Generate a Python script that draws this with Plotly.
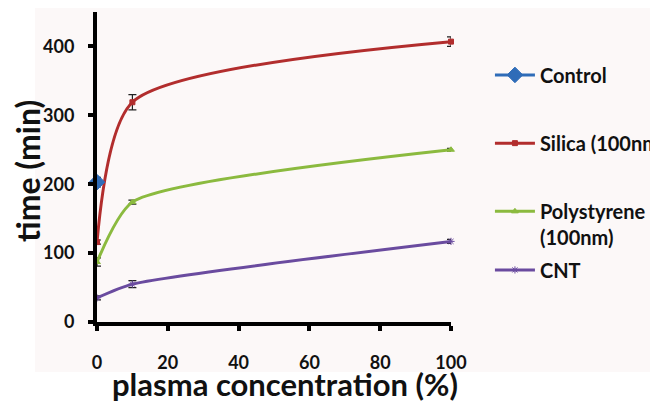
import plotly.graph_objects as go

x_vals = [0, 10, 100]
control_x = [0]
control_y = [203]
control_err = [7]
silica_y = [116, 319, 407]
silica_err = [3, 11, 7]
poly_y = [87, 174, 250]
poly_err = [6, 3, 2]
cnt_y = [35, 55, 117]
cnt_err = [3, 5, 3]

x_ticks = [0, 20, 40, 60, 80, 100]
y_ticks = [0, 100, 200, 300, 400]

FONT = "Lato"
TXT = "#111111"
fig = go.Figure()

def add(name, xs, ys, errs, color, symbol, size, legend, rank, smooth):
    fig.add_trace(go.Scatter(
        x=xs, y=ys, name=name, mode="lines+markers",
        line=dict(color=color, width=3, shape="spline", smoothing=smooth),
        marker=dict(color=color, symbol=symbol, size=size, line=dict(width=1, color=color)),
        error_y=dict(type="data", array=errs, color="#222222", thickness=1.2, width=4),
        legend=legend, legendrank=rank, cliponaxis=False,
    ))

add("Silica (100nm)", x_vals, silica_y, silica_err, "#B22D2D", "square", 5, "legend2", 2, 0.7)
add("Polystyrene<br>(100nm)", x_vals, poly_y, poly_err, "#8BBA3F", "triangle-up", 6, "legend3", 3, 0.6)
add("CNT", x_vals, cnt_y, cnt_err, "#6A4B9F", "asterisk", 6, "legend4", 4, 0.6)
add("Control", control_x, control_y, control_err, "#2F6CB8", "diamond", 12, "legend", 1, 0.6)

LX = 1.110
def leg(y, valign="middle"):
    return dict(x=LX, y=y, xanchor="left", yanchor="middle", valign=valign,
                font=dict(family=FONT, size=20, color=TXT, weight="bold"),
                bgcolor="rgba(0,0,0,0)", itemwidth=40)

fig.update_layout(
    width=658, height=402,
    margin=dict(l=89, r=215, t=4, b=88, autoexpand=False),
    paper_bgcolor="white", plot_bgcolor="rgba(0,0,0,0)",
    font=dict(family=FONT, color=TXT),
    showlegend=True,
    legend=leg(0.797),
    legend2=leg(0.577),
    legend3=leg(0.315, "top"),
    legend4=leg(0.168),
    shapes=[dict(type="rect", xref="paper", yref="paper", x0=-0.175, x1=2.0, y0=-0.161, y1=1.023,
                 fillcolor="#FCF8F8", line=dict(width=0), layer="below")],
    xaxis=dict(range=[0, 100], tickvals=x_ticks, showgrid=False, zeroline=False,
               showline=True, linecolor="black", linewidth=4,
               ticks="outside", ticklen=5, tickwidth=4, tickcolor="black",
               ticklabelstandoff=16,
               tickfont=dict(family=FONT, size=18, weight="bold", color=TXT)),
    yaxis=dict(range=[0, 450], tickvals=y_ticks, showgrid=False, zeroline=False,
               showline=True, linecolor="black", linewidth=4,
               ticks="outside", ticklen=5, tickwidth=4, tickcolor="black",
               ticklabelstandoff=10,
               tickfont=dict(family=FONT, size=18, weight="bold", color=TXT)),
    annotations=[
        dict(text="plasma concentration (%)", xref="paper", yref="paper", x=0.53, y=-0.2,
             xanchor="center", yanchor="middle", showarrow=False,
             font=dict(family=FONT, size=31, weight="bold", color=TXT)),
        dict(text="time (min)", xref="paper", yref="paper", x=-0.198, y=0.487, textangle=-90,
             xanchor="center", yanchor="middle", showarrow=False,
             font=dict(family=FONT, size=32, weight="bold", color=TXT)),
    ],
)

fig.write_html("out.html")
